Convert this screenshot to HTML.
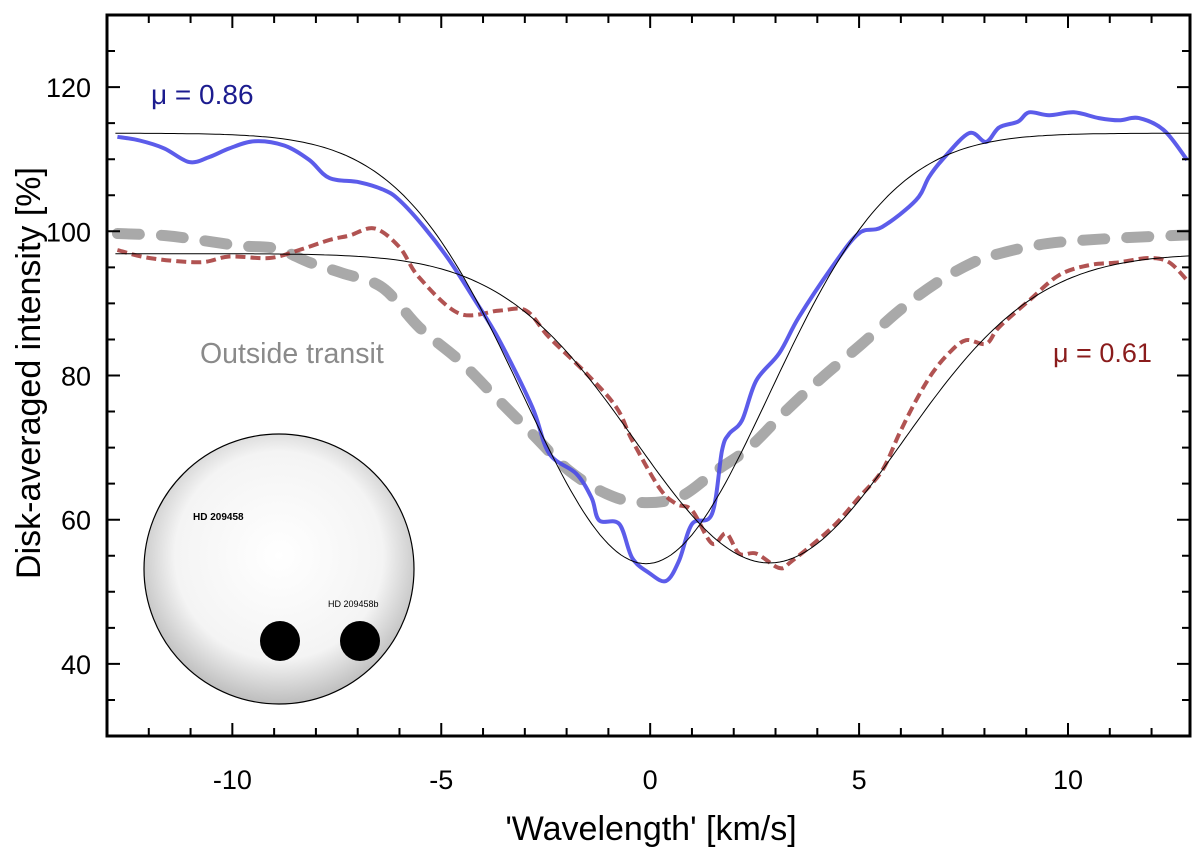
<!DOCTYPE html>
<html><head><meta charset="utf-8"><style>
html,body{margin:0;padding:0;background:#fff;}
svg{display:block;font-family:"Liberation Sans",sans-serif;}
</style></head><body>
<svg id="chart" width="1200" height="854" viewBox="0 0 1200 854" xmlns="http://www.w3.org/2000/svg">
<defs>
<radialGradient id="star" cx="0.5" cy="0.45" r="0.55">
<stop offset="0" stop-color="#ffffff"/><stop offset="0.7" stop-color="#f4f4f4"/><stop offset="1" stop-color="#bdbdbd"/>
</radialGradient>
<clipPath id="plotclip"><rect x="107" y="15" width="1083" height="721"/></clipPath>
</defs>
<g>
<circle cx="279" cy="569" r="135" fill="url(#star)" stroke="#000" stroke-width="1.2"/>
<circle cx="280" cy="641" r="20" fill="#000"/>
<circle cx="360" cy="641" r="20" fill="#000"/>
<text x="193" y="520" font-size="10" font-weight="bold">HD 209458</text>
<text x="328" y="607" font-size="9">HD 209458b</text>
</g>
<g id="series" clip-path="url(#plotclip)"></g>
<g id="axes"></g>
<text x="151" y="104" font-size="28" fill="#1c1c8f">μ = 0.86</text>
<text x="1053" y="362" font-size="27" fill="#8a1c1c">μ = 0.61</text>
<text x="200" y="363" font-size="28.5" fill="#8a8a8a">Outside transit</text>
<text transform="translate(40,373) rotate(-90)" text-anchor="middle" font-size="34">Disk-averaged intensity [%]</text>
<text x="651" y="840" text-anchor="middle" font-size="34">'Wavelength' [km/s]</text>
</svg>
<script>
const blueX=[-12.75,-12.22,-11.63,-11.03,-10.55,-10.07,-9.47,-8.76,-8.16,-7.68,-6.96,-6.36,-6.0,-5.4,-4.81,-4.2,-3.61,-2.82,-2.42,-1.77,-1.4,-1.22,-0.74,-0.43,-0.02,0.38,0.69,1.00,1.48,1.72,1.89,2.20,2.54,3.09,3.56,4.35,4.99,5.55,6.36,6.67,6.99,7.63,8.04,8.35,8.80,9.07,9.55,10.14,10.74,11.22,11.70,12.30,12.85];
const blueY=[113.1,112.6,111.5,109.6,110.3,111.5,112.5,111.9,109.9,107.4,106.8,105.7,104.3,100.5,96.0,90.5,84.9,75.6,69.2,66.4,63.0,59.9,59.4,54.7,52.6,51.5,54.3,59.4,60.8,69.6,71.9,73.8,79.3,83.1,88.1,95.0,99.7,100.6,104.3,107.5,109.9,113.6,112.4,114.4,115.2,116.5,116.1,116.5,115.7,115.4,115.7,114.0,109.9];
const redX=[-12.75,-11.99,-10.79,-10.07,-9.11,-8.40,-7.68,-7.20,-6.60,-6.0,-5.53,-4.57,-3.61,-2.97,-2.42,-1.53,-0.81,-0.43,0.22,0.62,1.0,1.48,1.82,2.13,2.54,3.09,3.40,4.35,5.0,5.55,5.96,6.36,6.75,7.15,7.56,8.04,8.35,9.07,9.78,10.50,11.22,11.94,12.42,12.85];
const redY=[97.4,96.3,95.7,96.5,96.3,97.4,98.8,99.4,100.4,97.8,93.6,88.6,89.0,89.0,85.3,80.3,75.6,71.0,64.4,62.2,61.3,56.7,58.1,55.3,55.3,53.3,54.3,58.9,63.1,66.8,71.9,76.5,80.3,83.1,84.9,84.4,86.7,90.4,93.9,95.3,95.7,96.3,95.7,93.2];
const grayX=[-12.75,-11.6,-10.8,-9.83,-8.95,-8.16,-7.37,-6.41,-5.53,-4.57,-3.68,-2.82,-1.94,-1.05,-0.26,0.69,1.58,2.37,3.25,4.11,5.07,5.96,6.84,7.70,8.35,9.5,11,12.9];
const grayY=[99.7,99.4,98.8,98.0,97.6,95.7,94.2,92.2,86.7,82.1,76.9,71.9,66.8,63.6,62.4,63.1,66.8,70.0,75.1,79.7,84.4,89.0,92.8,95.6,96.9,98.3,99.0,99.5];
// Gaussian fit parameters: [baseline, depth, center, sigma]
const fitBlue=[113.6,59.7,-0.1,2.95];
const fitRed=[96.9,42.9,2.85,3.2];
const xTicks=[-10,-5,0,5,10];
const yTicks=[40,60,80,100,120];

const X0=107,X1=1190,Y0=736,Y1=15;
const xmin=-13.0,xmax=12.92,ymin=30,ymax=130;
const sx=v=>X0+(v-xmin)/(xmax-xmin)*(X1-X0);
const sy=v=>Y0-(v-ymin)/(ymax-ymin)*(Y0-Y1);
const NS="http://www.w3.org/2000/svg";
const ser=document.getElementById('series'), ax=document.getElementById('axes');
function mk(tag,attrs,parent){const e=document.createElementNS(NS,tag);for(const k in attrs)e.setAttribute(k,attrs[k]);parent.appendChild(e);return e;}
function smooth(xs,ys){const p=xs.map((x,i)=>[sx(x),sy(ys[i])]);
 let d='M'+p[0][0].toFixed(1)+','+p[0][1].toFixed(1);
 for(let i=0;i<p.length-1;i++){const a=p[i-1]||p[i],b=p[i],c=p[i+1],e=p[i+2]||c;
  const c1=[b[0]+(c[0]-a[0])/6,b[1]+(c[1]-a[1])/6],c2=[c[0]-(e[0]-b[0])/6,c[1]-(e[1]-b[1])/6];
  d+=' C'+c1.map(v=>v.toFixed(1))+' '+c2.map(v=>v.toFixed(1))+' '+c[0].toFixed(1)+','+c[1].toFixed(1);}
 return d;}
function fitPath(p){let d='';for(let x=xmin+0.2;x<=xmax;x+=0.1){const y=p[0]-p[1]*Math.exp(-((x-p[2])**2)/(2*p[3]*p[3]));d+=(d?' L':'M')+sx(x).toFixed(1)+','+sy(y).toFixed(1);}return d;}

let g=mk('path',{d:smooth(grayX,grayY),fill:'none',stroke:'#9a9a9a','stroke-width':11,'stroke-dasharray':'22 22','stroke-linecap':'round','stroke-opacity':0.85},ser);


let r=mk('path',{d:smooth(redX,redY),fill:'none',stroke:'#a8403f','stroke-width':4,'stroke-dasharray':'10 5','stroke-opacity':0.9},ser);


let b=mk('path',{d:smooth(blueX,blueY),fill:'none',stroke:'#4a4ae8','stroke-width':4,'stroke-opacity':0.9},ser);


let f1=mk('path',{d:fitPath(fitBlue),fill:'none',stroke:'#000','stroke-width':1},ser);


let f2=mk('path',{d:fitPath(fitRed),fill:'none',stroke:'#000','stroke-width':1},ser);



let frame=mk('rect',{x:X0,y:Y1,width:X1-X0,height:Y0-Y1,fill:'none',stroke:'#000','stroke-width':3},ax);


for(let v=-13;v<=12;v++){const major=v%5===0;const x=sx(v);const L=major?13:8;
 let t=mk('path',{d:`M${x},${Y0}v${-L}M${x},${Y1}v${L}`,stroke:'#000','stroke-width':2},ax);
 
 }
for(let v=35;v<130;v+=5){const major=v%20===0;const y=sy(v);const L=major?13:8;
 let t=mk('path',{d:`M${X0},${y}h${L}M${X1},${y}h${-L}`,stroke:'#000','stroke-width':2},ax);
 
 }
xTicks.forEach(v=>{let t=mk('text',{x:sx(v),y:789,'text-anchor':'middle','font-size':27},ax);t.textContent=String(v);
 
 });
yTicks.forEach(v=>{let t=mk('text',{x:91,y:sy(v)+10,'text-anchor':'end','font-size':27},ax);t.textContent=String(v);
 
 });
</script>
</body></html>
